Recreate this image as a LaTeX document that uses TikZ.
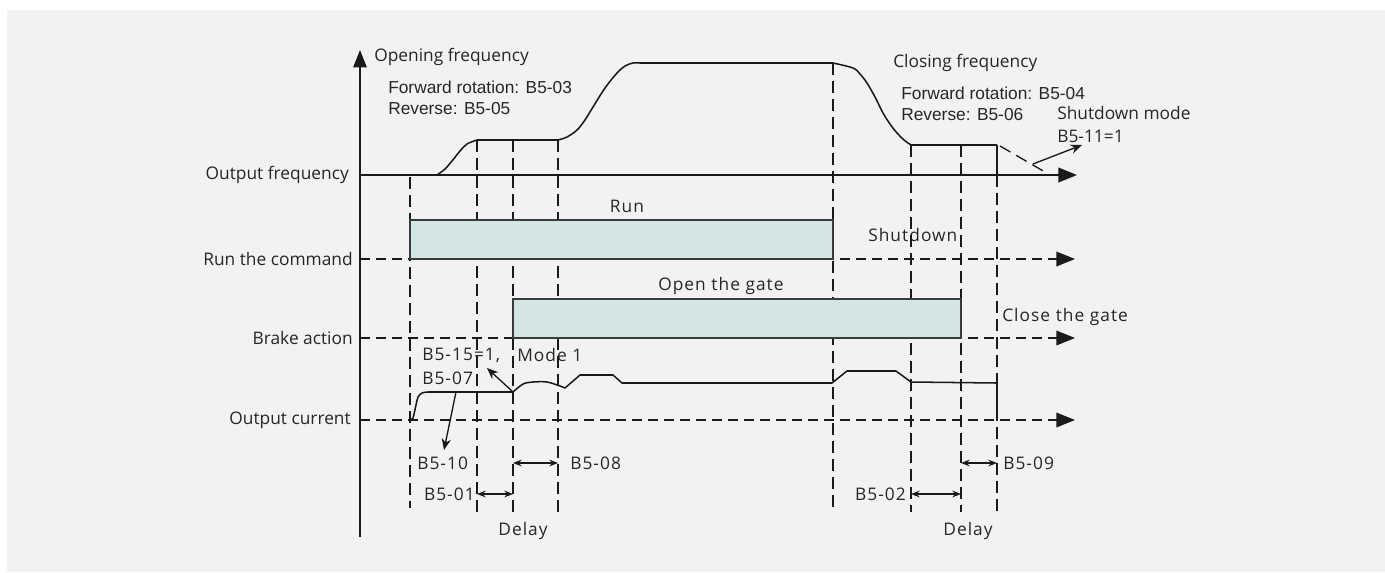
\documentclass[tikz,border=0pt]{standalone}
\usepackage{fontspec}
\setmainfont{Open Sans}
\newfontfamily\arialf{Liberation Sans}
\newfontfamily\spacedf[LetterSpace=6]{Open Sans}
\usetikzlibrary{arrows.meta}
\definecolor{bg}{HTML}{F1F2F4}
\definecolor{ink}{HTML}{1A1A1A}
\definecolor{txt}{HTML}{262626}
\definecolor{boxfill}{HTML}{D3E6E3}
\definecolor{boxline}{HTML}{3A3A3A}
\begin{document}
\begin{tikzpicture}[x=0.75pt,y=-0.75pt,
  lbl/.style={inner sep=0pt, text=txt, font=\fontsize{13}{15}\selectfont},
  arl/.style={inner sep=0pt, text=txt, font=\arialf\fontsize{13}{15}\selectfont},
  spc/.style={inner sep=0pt, text=txt, font=\spacedf\fontsize{13}{15}\selectfont},
  axis/.style={ink, line width=1.3pt, -{Triangle[length=14pt,width=11pt]}},
  daxis/.style={ink, line width=1.1pt, dash pattern=on 7.5pt off 4.5pt, -{Triangle[length=14pt,width=11pt]}},
  vdash/.style={ink, line width=1pt, dash pattern=on 9pt off 4.5pt},
  curve/.style={ink, line width=1.15pt, line join=round},
  bar/.style={fill=boxfill, draw=boxline, line width=1pt},
  note/.style={ink, line width=1pt, -{Stealth[length=8.5pt,width=7pt]}},
  span/.style={ink, line width=1pt, {Stealth[length=6.5pt,width=5pt]}-{Stealth[length=6.5pt,width=5pt]}},
]
\useasboundingbox (0,0) rectangle (1385,572);
\fill[white] (0,0) rectangle (1385,572);
\fill[bg] (7,10) rectangle (1385,572);

% ---- texts
\node[lbl, anchor=east] (tOF) at (349,175) {Output frequency};
\node[lbl, anchor=east] (tRC) at (353,259) {Run the command};
\node[lbl, anchor=east] (tBA) at (353,338) {Brake action};
\node[lbl, anchor=east] (tOC) at (351,420) {Output current};

\node[lbl, anchor=west] (tOpen) at (374,57) {Opening frequency};
\node[arl, anchor=west] (tFw1) at (388,87) {Forward rotation: B5-03};
\node[arl, anchor=west] (tRv1) at (388,109) {Reverse: B5-05};
\node[lbl, anchor=west] (tClose) at (893,63) {Closing frequency};
\node[arl, anchor=west] (tFw2) at (901,93) {Forward rotation: B5-04};
\node[arl, anchor=west] (tRv2) at (901,115) {Reverse: B5-06};
\node[lbl, anchor=west] (tSM) at (1057,113) {Shutdown mode};
\node[lbl, anchor=west] (tB511) at (1057,136) {B5-11=1};

\node[spc] (tRun) at (627,206) {Run};
\node[spc, anchor=west] (tShut) at (868,235) {Shutdown};
\node[spc, anchor=west] (tOG) at (658,286) {Open the gate};
\node[spc, anchor=west] (tCG) at (1002,317) {Close the gate};

\node[spc, anchor=west] (tB515) at (422,355) {B5-15=1,};
\node[spc, anchor=west] (tMode) at (517,355) {Mode 1};
\node[spc, anchor=west] (tB507) at (422,378) {B5-07};
\node[spc, anchor=west] (tB510) at (417,463) {B5-10};
\node[spc, anchor=west] (tB508) at (570,463) {B5-08};
\node[spc, anchor=east] (tB501) at (475,494) {B5-01};
\node[spc] (tDelay1) at (523,531) {Delay};
\node[spc, anchor=west] (tB509) at (1003,463) {B5-09};
\node[spc, anchor=east] (tB502) at (906,494) {B5-02};
\node[spc] (tDelay2) at (968,531) {Delay};

% ---- vertical dashed guides
\draw[vdash] (410,177) -- (410,508);
\draw[vdash] (477,140) -- (477,512);
\draw[vdash] (513,140) -- (513,512);
\draw[vdash] (558,140) -- (558,512);
\draw[vdash] (833,63) -- (833,512);
\draw[vdash] (911,145) -- (911,512);
\draw[vdash] (961,145) -- (961,512);
\draw[ink, line width=1pt] (997,145) -- (997,175);
\draw[vdash] (997,175) -- (997,512);

% ---- axes
\coordinate (ybot) at (360,537);
\coordinate (ytop) at (360,50);
\draw[axis, -{Triangle[length=13pt,width=10pt]}] (ybot) -- (ytop);
\coordinate (f0) at (360,175);
\coordinate (f1) at (1077,175);
\draw[axis] (f0) -- (f1);
\coordinate (r0) at (360,259);
\coordinate (r1) at (1075,259);
\draw[daxis] (r0) -- (r1);
\coordinate (b0) at (360,338);
\coordinate (b1) at (1075,338);
\draw[daxis] (b0) -- (b1);
\coordinate (c0) at (360,420);
\coordinate (c1) at (1075,420);
\draw[daxis] (c0) -- (c1);

% ---- bars
\draw[bar] (410,220) rectangle (833,259);
\draw[bar] (513,299) rectangle (961,338);

% ---- frequency curve
\draw[curve, line width=1.4pt] (423,175) -- (437,175);
\draw[curve] plot[smooth, tension=0.55] coordinates {(437,175) (445,169) (452,161) (460,151) (467,144) (477,140)}
  -- (558,140)
  plot[smooth, tension=0.55] coordinates {(558,140) (567,137) (577,130) (585,120) (593,107) (605,88) (617,73) (625,66) (633,63) (640,63)}
  -- (833,63)
  plot[smooth, tension=0.55] coordinates {(833,63) (853,68) (860,74) (867,83) (875,97) (883,113) (890,124) (897,133) (904,140) (911,145)}
  -- (997,145);
\coordinate (sd0) at (1000,146);
\coordinate (sd1) at (1045,172);
\draw[ink, line width=1pt, dash pattern=on 9pt off 5pt] (sd0) -- (sd1);
\coordinate (sa0) at (1033,164);
\coordinate (sa1) at (1082,145);
\draw[note] (sa0) -- (sa1);

% ---- current curve
\draw[curve] plot[smooth, tension=0.5] coordinates {(410,420) (413,418) (416,405) (418,397) (422,393) (428,392)}
  -- (513,392)
  plot[smooth, tension=0.5] coordinates {(513,392) (523,384) (533,382) (547,382) (560,386) (565,388)}
  -- (580,375) -- (613,375) -- (622,383) -- (832,383) -- (847,371) -- (896,371) -- (911,382) -- (997,383) -- (997,420);

% ---- annotation arrows
\coordinate (m0) at (513,392);
\coordinate (m1) at (487,368);
\draw[note] (m0) -- (m1);
\coordinate (k0) at (456,392);
\coordinate (k1) at (444,450);
\draw[note] (k0) -- (k1);

\coordinate (d8a) at (513,463);
\coordinate (d8b) at (558,463);
\draw[span] (d8a) -- (d8b);
\coordinate (d1a) at (477,494);
\coordinate (d1b) at (513,494);
\draw[span] (d1a) -- (d1b);
\coordinate (d9a) at (961,463);
\coordinate (d9b) at (997,463);
\draw[span] (d9a) -- (d9b);
\coordinate (d2a) at (911,494);
\coordinate (d2b) at (961,494);
\draw[span] (d2a) -- (d2b);
\end{tikzpicture}
\end{document}
